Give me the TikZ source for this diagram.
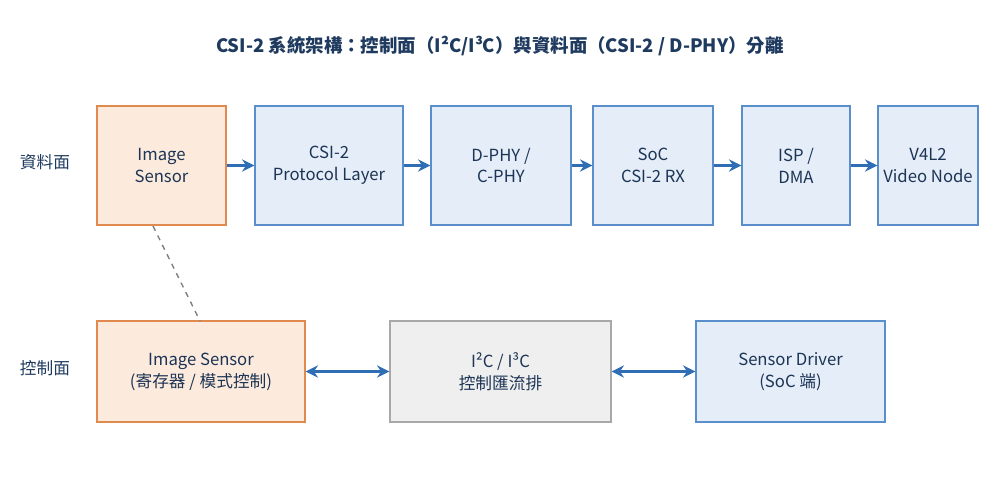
\documentclass[tikz,border=0pt]{standalone}
\usepackage{fontspec}
\setmainfont{Noto Sans CJK TC}
\usetikzlibrary{arrows.meta}
\definecolor{sensfill}{HTML}{FCEADC}
\definecolor{sensline}{HTML}{E08A50}
\definecolor{blkfill}{HTML}{E4EDF8}
\definecolor{blkline}{HTML}{5B8FCB}
\definecolor{busfill}{HTML}{EFEFEF}
\definecolor{busline}{HTML}{A8A8A8}
\definecolor{arrowblue}{HTML}{2F6DB5}
\definecolor{titleblue}{HTML}{1F3A5F}
\tikzset{
  box/.style={draw, line width=0.8pt, align=center, inner sep=0pt,
    font=\fontsize{9.5}{12.5}\selectfont, text=titleblue!90!black},
  sensbox/.style={box, fill=sensfill, draw=sensline},
  blkbox/.style={box, fill=blkfill, draw=blkline},
  busbox/.style={box, fill=busfill, draw=busline},
  flow/.style={-{Stealth[length=7pt,width=7pt]}, arrowblue, line width=1.5pt},
  both/.style={{Stealth[length=7pt,width=7pt]}-{Stealth[length=7pt,width=7pt]}, arrowblue, line width=1.5pt},
  plane/.style={font=\fontsize{9.5}{11}\selectfont, text=titleblue}
}
\begin{document}
\begin{tikzpicture}[x=0.02cm,y=-0.02cm]
\useasboundingbox (0,0) rectangle (1000,500);

\node[font=\fontsize{10.5}{12}\selectfont\bfseries, text=titleblue] (title) at (500,46)
  {CSI-2 系統架構：控制面（I²C/I³C）與資料面（CSI-2 / D-PHY）分離};

\node[plane] (dlabel) at (45,162) {資料面};
\node[plane] (clabel) at (45,368) {控制面};

% data plane
\node[sensbox, minimum width=2.58cm, minimum height=2.38cm] (sensor) at (161.5,165.5) {Image\\Sensor};
\node[blkbox, minimum width=2.96cm, minimum height=2.38cm] (csi) at (329,165.5) {CSI-2\\Protocol Layer};
\node[blkbox, minimum width=2.80cm, minimum height=2.38cm] (phy) at (501,165.5) {D-PHY /\\C-PHY};
\node[blkbox, minimum width=2.40cm, minimum height=2.38cm] (rx) at (653,165.5) {SoC\\CSI-2 RX};
\node[blkbox, minimum width=2.16cm, minimum height=2.38cm] (isp) at (796,165.5) {ISP /\\DMA};
\node[blkbox, minimum width=2.00cm, minimum height=2.38cm] (v4l2) at (928,165.5) {V4L2\\Video Node};

\draw[flow] (sensor) -- (csi);
\draw[flow] (csi) -- (phy);
\draw[flow] (phy) -- (rx);
\draw[flow] (rx) -- (isp);
\draw[flow] (isp) -- (v4l2);

% control plane
\node[sensbox, minimum width=4.16cm, minimum height=2.02cm] (regs) at (201,371.5) {Image Sensor\\(寄存器 / 模式控制)};
\node[busbox, minimum width=4.42cm, minimum height=2.02cm] (bus) at (500.5,371.5) {I²C / I³C\\控制匯流排};
\node[blkbox, minimum width=3.78cm, minimum height=2.02cm] (drv) at (790.5,371.5) {Sensor Driver\\(SoC 端)};

\draw[both] (regs) -- (bus);
\draw[both] (bus) -- (drv);

\draw[dashed, gray, line width=0.8pt] (153,226) -- (200,321);
\end{tikzpicture}
\end{document}
